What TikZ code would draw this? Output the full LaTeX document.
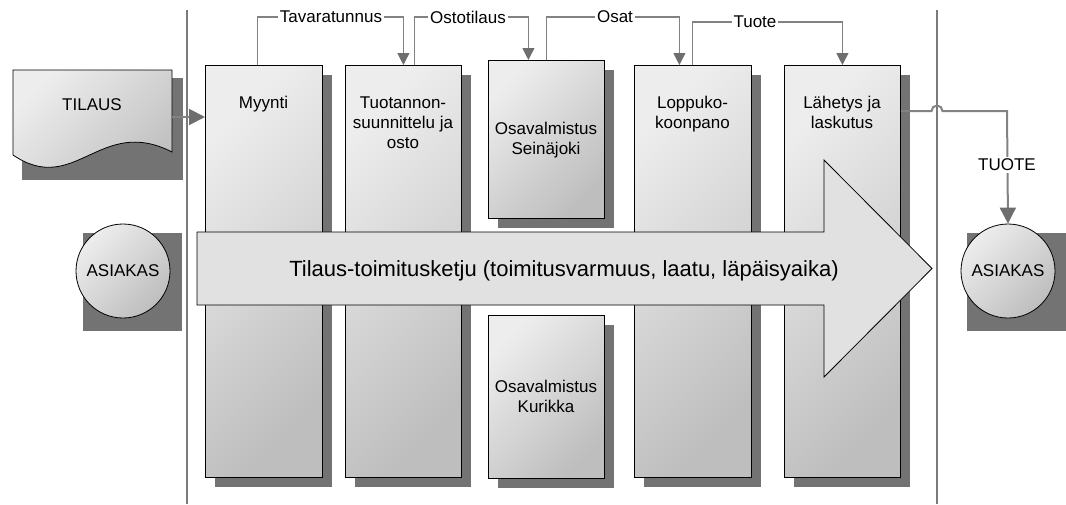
\documentclass[tikz,border=0pt]{standalone}
\usepackage{fontspec}
\setmainfont{Liberation Sans}
\usetikzlibrary{arrows.meta,calc,shadows}
\definecolor{shadowgray}{HTML}{737373}
\definecolor{boxlight}{HTML}{EDEDED}
\definecolor{boxdark}{HTML}{BEBEBE}
\definecolor{arrowfill}{HTML}{E1E1E1}
\definecolor{linegray}{HTML}{828282}
\definecolor{tipgray}{HTML}{6E6E6E}
\definecolor{railgray}{HTML}{7A7A7A}

\begin{document}
\begin{tikzpicture}[x=1pt,y=-1pt,
  every node/.style={font=\fontsize{17}{20}\selectfont, inner sep=0pt},
  panel/.style={draw=black, line width=0.8pt, shading=axis,
    top color=boxlight, bottom color=boxdark, shading angle=45,
    anchor=north west,
    general shadow={fill=shadowgray, shadow xshift=10pt, shadow yshift=-10pt}},
  tallpanel/.style={panel, minimum width=117pt, minimum height=412pt},
  paneltext/.style={align=center, anchor=base},
  rail/.style={draw=railgray, line width=2pt},
  flowthin/.style={draw=linegray, line width=1.1pt,
    -{Triangle[length=12pt,width=12pt,color=tipgray]}},
  flowthick/.style={draw=linegray, line width=2pt,
    -{Triangle[length=16pt,width=16pt,color=tipgray]}},
  tag/.style={fill=white, inner sep=2pt},
  customer/.style={circle, draw=black, line width=0.8pt, minimum size=94pt,
    shading=axis, top color=boxlight, bottom color=boxdark, shading angle=45},
  backdrop/.style={fill=shadowgray}
]
\useasboundingbox (0,0) rectangle (1066,504);

% boundary rails
\coordinate (railLtop) at (187,10);
\coordinate (railLbot) at (187,504);
\coordinate (railRtop) at (937,10);
\coordinate (railRbot) at (937,504);
\draw[rail] (railLtop) -- (railLbot);
\draw[rail] (railRtop) -- (railRbot);

% order document
\fill[backdrop] (22,78) rectangle (183,180);
\shade[draw=black, line width=0.8pt, shading=axis, top color=boxlight,
  bottom color=boxdark, shading angle=45]
  (13,70) -- (172,70) -- (172,152)
  .. controls (100,115) and (75,197) .. (13,155) -- cycle;
\node (tilaus) at (92,105) {TILAUS};
\coordinate (tilausout) at (172,117);

% customers
\fill[backdrop] (83,233) rectangle (182,331);
\node[customer] (asiakasL) at (123,271) {ASIAKAS};
\fill[backdrop] (967,233) rectangle (1066,331);
\node[customer] (asiakasR) at (1008,271) {ASIAKAS};

% process panels
\node[tallpanel] (myynti) at (205,65) {};
\node[tallpanel, minimum width=116pt] (tuot) at (345,65) {};
\node[panel, minimum width=116pt, minimum height=158pt] (sein) at (488,60) {};
\node[panel, minimum width=116pt, minimum height=163pt] (kur) at (488,315) {};
\node[tallpanel] (lopp) at (634,65) {};
\node[tallpanel, minimum width=116pt] (lah) at (784,65) {};

% panel captions (anchored on the baseline of the last line)
\node[paneltext] (myyntiT) at (263.5,108) {Myynti};
\node[paneltext] (tuotT) at (403,148) {Tuotannon-\\suunnittelu ja\\osto};
\node[paneltext] (seinT) at (546,154) {Osavalmistus\\Seinäjoki};
\node[paneltext] (kurT) at (546,412) {Osavalmistus\\Kurikka};
\node[paneltext] (loppT) at (692.5,128) {Loppuko-\\koonpano};
\node[paneltext] (lahT) at (842,128) {Lähetys ja\\laskutus};

% supply chain arrow
\draw[fill=arrowfill, line width=0.8pt, line join=miter]
  (197,232) -- (824,232) -- (824,160) -- (932,268.5) -- (824,377)
  -- (824,305) -- (197,305) -- cycle;
\node[anchor=base, font=\fontsize{22}{26}\selectfont] (chain) at (564,276)
  {Tilaus-toimitusketju (toimitusvarmuus, laatu, läpäisyaika)};

% order into sales
\draw[flowthick] (tilausout) -- (myynti.west |- tilausout);

% information and material flow between panels
\draw[flowthin] ($(myynti.north)+(-6.5,0)$) -- ++(0,-48) -| (tuot.north);
\draw[flowthin] ($(tuot.north)+(11,0)$) -- ++(0,-48) -| ($(sein.north)+(-18,0)$);
\draw[flowthin] (sein.north) -- ++(0,-43) -| ($(lopp.north)+(-13.5,0)$);
\draw[flowthin] (lopp.north) -- ++(0,-43) -| (lah.north);
\node[tag] (t1) at (331,17) {Tavaratunnus};
\node[tag] (t2) at (468,17) {Ostotilaus};
\node[tag] (t3) at (615,17) {Osat};
\node[tag] (t4) at (755,22) {Tuote};

% delivered product, hopping over the rail
\coordinate (hopA) at (931.5,111);
\draw[flowthick] ($(lah.north east)+(0,46)$) -- (hopA)
  arc[start angle=180, end angle=0, radius=5.5pt] -- (1007,111) -- (asiakasR.north);
\node[tag] (tuote) at (1007,165) {TUOTE};
\end{tikzpicture}
\end{document}
